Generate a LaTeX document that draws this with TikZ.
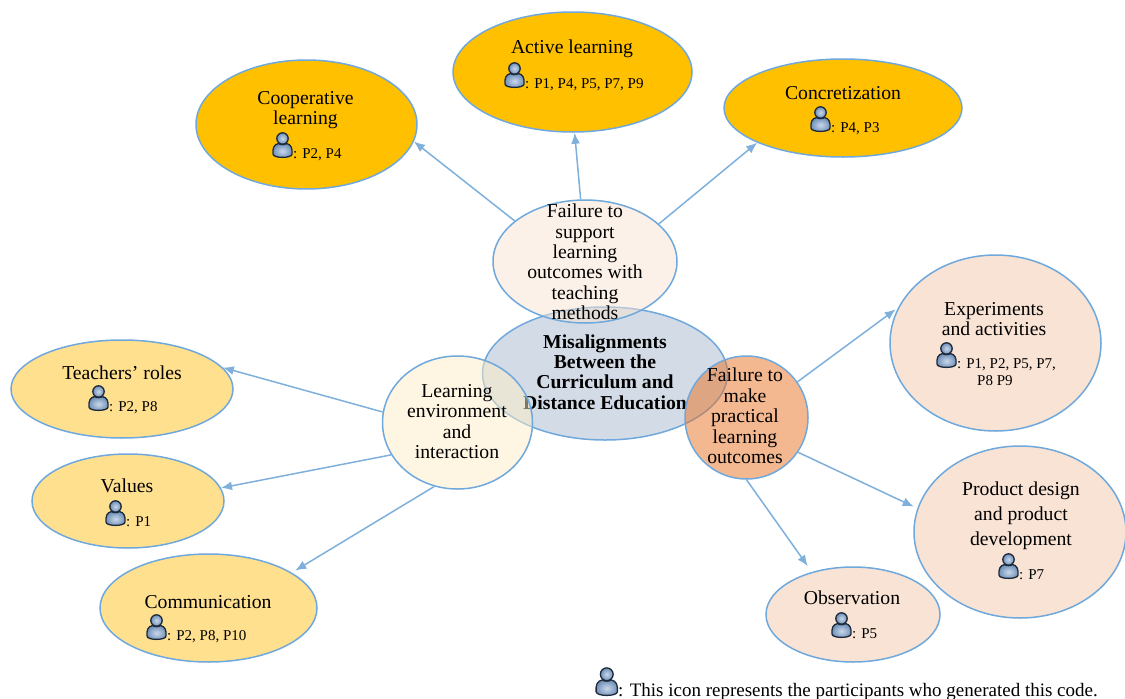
\documentclass[tikz,border=0pt]{standalone}
\usepackage{fontspec}
\setmainfont{Liberation Serif}
\usetikzlibrary{shapes.geometric,arrows.meta}
\definecolor{edgeblue}{HTML}{6FA8DC}
\definecolor{linkblue}{HTML}{7FB0DC}
\definecolor{gold}{HTML}{FFC000}
\definecolor{palegold}{HTML}{FFE08F}
\definecolor{palepeach}{HTML}{F9E3D5}
\definecolor{mainblue}{HTML}{D3DBE6}
\definecolor{halfcream}{RGB}{247,227,209}
\definecolor{halfyellow}{RGB}{253,237,199}
\definecolor{halforange}{RGB}{233,113,33}
\definecolor{icondark}{HTML}{1E2A3A}
\definecolor{iconlight}{HTML}{C9D8EA}
\definecolor{iconmid}{HTML}{6F8FB8}
\tikzset{
  bubble/.style={ellipse,draw=edgeblue,line width=1.5pt,inner sep=0pt},
  halfbubble/.style={bubble,fill opacity=.5,draw opacity=1},
  lbl/.style={align=center,inner sep=0pt,font=\fontsize{19.7}{20.4}\selectfont},
  who/.style={anchor=base west,inner sep=0pt,font=\fontsize{15}{17}\selectfont},
  link/.style={draw=linkblue,line width=1.5pt,-{Latex[length=11pt,width=9pt]}},
  iconpart/.style={draw=icondark,line width=1.3pt,inner color=iconlight,outer color=iconmid},
  user/.pic={
    \path[iconpart]
      (1,22) .. controls (0.5,16) and (2,12.5) .. (6.5,11.5)
      .. controls (8.5,13) and (12.5,13) .. (14.5,11.5)
      .. controls (19,12.5) and (20.5,16) .. (20,22)
      .. controls (20,26.5) and (1,26.5) .. cycle;
    \path[iconpart] (10.5,6.5) circle[radius=5.7];
  }
}
\newcommand{\whotag}[4]{%
  \pic at (#2,#3) {user};
  \node[who] (#1) at (#2+21,#3+26) {#4};
}
\begin{document}
\begin{tikzpicture}[x=1pt,y=-1pt]
\useasboundingbox (0,0) rectangle (1125,699);
% outer ellipses
\node[bubble,fill=gold,minimum width=221pt,minimum height=129pt] (coop) at (306.5,124.5) {};
\node[bubble,fill=gold,minimum width=239pt,minimum height=120pt] (active) at (572.5,72) {};
\node[bubble,fill=gold,minimum width=238pt,minimum height=98pt] (concr) at (843,108) {};
\node[bubble,fill=palegold,minimum width=222pt,minimum height=98pt] (teach) at (122,389) {};
\node[bubble,fill=palegold,minimum width=192pt,minimum height=94pt] (values) at (128,501) {};
\node[bubble,fill=palegold,minimum width=217pt,minimum height=108pt] (comm) at (208.5,608) {};
\node[bubble,fill=palepeach,minimum width=211pt,minimum height=176pt] (exper) at (995.5,343) {};
\node[bubble,fill=palepeach,minimum width=212pt,minimum height=172pt] (prod) at (1020,532) {};
\node[bubble,fill=palepeach,minimum width=174pt,minimum height=95pt] (obs) at (853,614.5) {};
% centre
\node[bubble,fill=mainblue,minimum width=245pt,minimum height=133pt] (main) at (605,373.5) {};
\node[lbl,font=\fontsize{19.7}{20.4}\selectfont\bfseries] (maint) at (605,372) {Misalignments\\Between the\\Curriculum and\\Distance Education};
\node[halfbubble,fill=halfcream,minimum width=184pt,minimum height=123pt] (sup) at (585,261.5) {};
\node[halfbubble,fill=halfyellow,minimum width=150pt,minimum height=133pt] (env) at (457.5,422.5) {};
\node[halfbubble,fill=halforange,minimum width=123pt,minimum height=123pt] (make) at (746.5,417.5) {};
% connectors
\draw[link] (sup.150.9) -- (coop.-9.3);
\draw[link] (sup.94.6) -- (active.-88.5);
\draw[link] (sup.27.2) -- (concr.202.8);
\draw[link] (env.172.7) -- (teach.12);
\draw[link] (env.206.4) -- (values.8);
\draw[link,shorten >=4pt] (env.250) -- (comm.23);
\draw[link,shorten >=3pt] (make.35) -- (exper.160.8);
\draw[link,shorten >=4pt] (make.-34.6) -- (prod.167);
\draw[link,shorten >=7pt] (make.-90) -- (obs.134.7);
% labels
\node[lbl] (supt) at (585,262) {Failure to\\support\\learning\\outcomes with\\teaching\\methods};
\node[lbl] (envt) at (457,421.5) {Learning\\environment\\and\\interaction};
\node[lbl] (maket) at (745,416) {Failure to\\make\\practical\\learning\\outcomes};
\node[lbl] (coopt) at (305.5,110) {Cooperative\\learning};
\node[lbl] (activet) at (572,49) {Active learning};
\node[lbl] (concrt) at (843,93) {Concretization};
\node[lbl] (teacht) at (122,373) {Teachers' roles};
\node[lbl] (valuest) at (127,486) {Values};
\node[lbl] (commt) at (208,602) {Communication};
\node[lbl] (expert) at (994,319) {Experiments\\and activities};
\node[lbl,font=\fontsize{19.7}{25}\selectfont] (prodt) at (1021,516) {Product design\\and product\\development};
\node[lbl] (obst) at (852,598) {Observation};
% participants
\whotag{coopw}{272}{132}{: P2, P4}
\whotag{activew}{504}{62}{: P1, P4, P5, P7, P9}
\whotag{concrw}{810}{106}{: P4, P3}
\whotag{teachw}{88}{385}{: P2, P8}
\whotag{valuesw}{105}{500}{: P1}
\whotag{commw}{146}{614}{: P2, P8, P10}
\whotag{experw}{936}{342}{: P1, P2, P5, P7,}
\node[who] (experw2) at (977,385) {P8 P9};
\whotag{prodw}{998}{553}{: P7}
\whotag{obsw}{831}{612}{: P5}
% legend
\pic[scale=1.12] at (595,667) {user};
\node[anchor=base west,inner sep=0pt,font=\fontsize{19}{20}\selectfont] (legend) at (618,696.5) {: This icon represents the participants who generated this code.};
\end{tikzpicture}
\end{document}
